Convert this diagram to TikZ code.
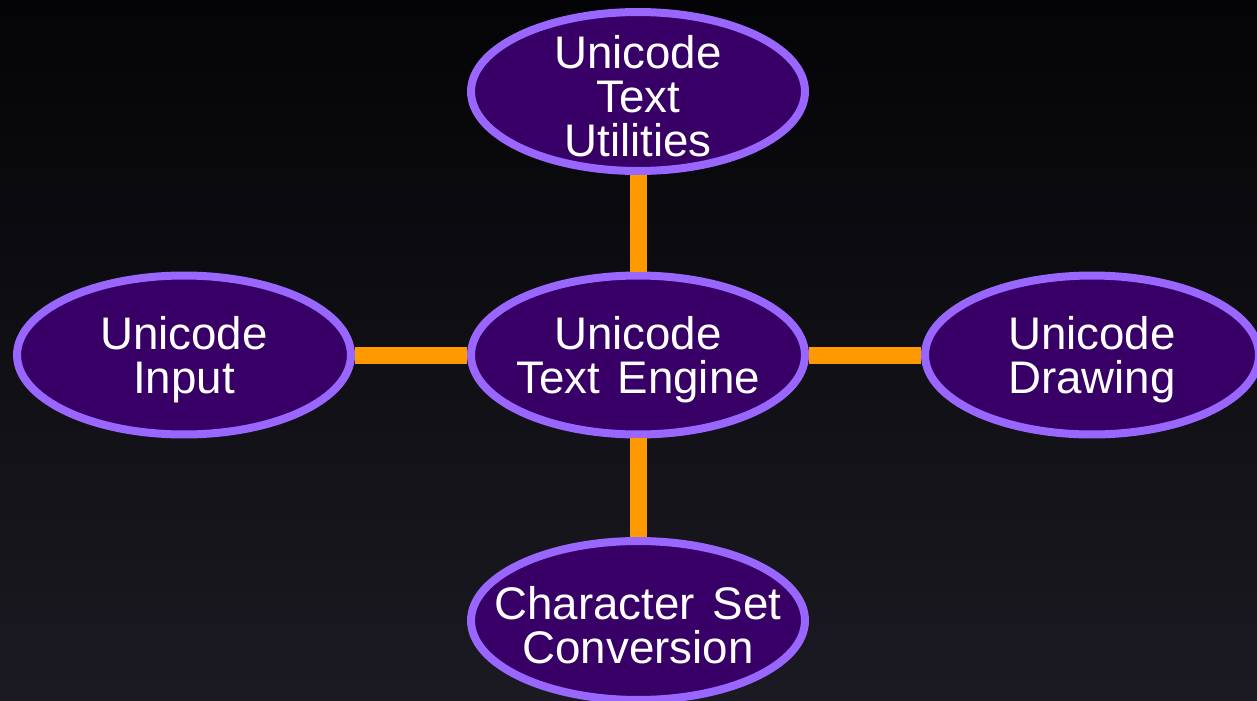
\documentclass[tikz,border=0pt]{standalone}
\usepackage{fontspec}
\setmainfont{Liberation Sans}[WordSpace=1.4]
\usetikzlibrary{shapes.geometric}
\definecolor{bgtop}{RGB}{4,4,6}
\definecolor{bgbottom}{RGB}{27,26,34}
\definecolor{nodefill}{RGB}{56,0,102}
\definecolor{nodeedge}{RGB}{153,102,255}
\definecolor{linkcol}{RGB}{255,153,0}
\begin{document}
\begin{tikzpicture}[x=0.02cm,y=-0.02cm,
  topic/.style={ellipse, draw=nodeedge, fill=nodefill, line width=0.16cm,
    minimum width=6.68cm, minimum height=3.18cm, inner sep=0pt},
  caption/.style={text=white, align=center, inner sep=0pt, yshift=-0.1cm,
    font=\fontsize{26}{25}\selectfont},
  link/.style={draw=linkcol, line width=0.34cm}]

% dark background with a soft vertical gradient
\shade[top color=bgtop, bottom color=bgbottom] (0,0) rectangle (1257,700);
\useasboundingbox (0,0) rectangle (1257,700);

% topic ellipses
\node[topic] (t) at (638,91.5) {};
\node[topic] (c) at (638,355) {};
\node[topic] (l) at (184,355) {};
\node[topic] (r) at (1092,355) {};
\node[topic] (b) at (638,620.5) {};

% captions
\node[caption] (tt) at (t) {Unicode\\Text\\Utilities};
\node[caption] (ct) at (c) {Unicode\\Text Engine};
\node[caption] (lt) at (l) {Unicode\\Input};
\node[caption] (rt) at (r) {Unicode\\Drawing};
\node[caption] (bt) at (b) {Character Set\\Conversion};

% connectors from the engine to its neighbours
\draw[link] (c.north) -- (t.south);
\draw[link] (c.south) -- (b.north);
\draw[link] (c.west) -- (l.east);
\draw[link] (c.east) -- (r.west);
\end{tikzpicture}
\end{document}
